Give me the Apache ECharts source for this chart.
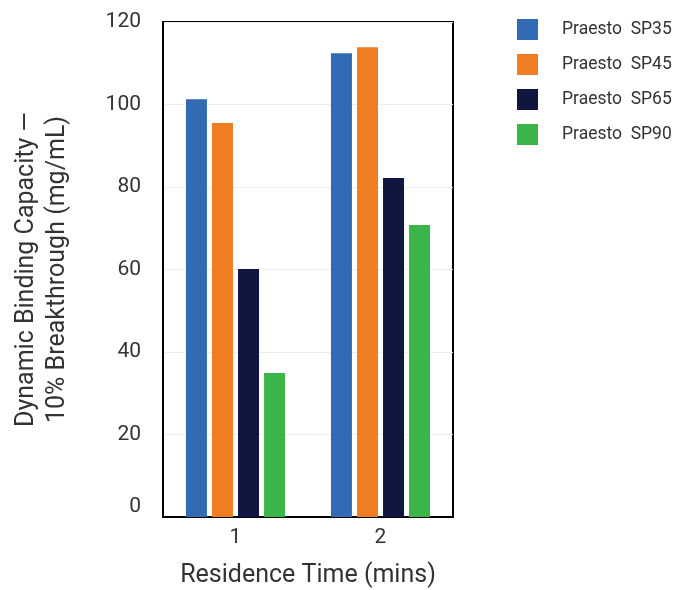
<!DOCTYPE html>
<html>
<head>
<meta charset="utf-8">
<script src="https://cdn.jsdelivr.net/npm/echarts@6/dist/echarts.min.js"></script>
<style>
html,body{margin:0;padding:0;background:#fff;}
#chart{width:678px;height:590px;}
</style>
</head>
<body>
<div id="chart"></div>
<script>
const categories = ['1', '2'];
const seriesNames = ['Praesto  SP35', 'Praesto  SP45', 'Praesto  SP65', 'Praesto  SP90'];
const sp35 = [101.3, 112.4];
const sp45 = [95.5, 113.9];
const sp65 = [60.1, 82.2];
const sp90 = [34.9, 70.8];
const yTicks = [0, 20, 40, 60, 80, 100, 120];

const values = [sp35, sp45, sp65, sp90];
const colors = ['#306BB4', '#F07D22', '#111640', '#3BB44A'];
const font = 'Roboto, "Noto Sans", sans-serif';
const textColor = '#333333';

const chart = echarts.init(document.getElementById('chart'));
chart.setOption({
  animation: false,
  backgroundColor: '#ffffff',
  textStyle: { fontFamily: font },
  grid: {
    left: 163, right: 225, top: 22, bottom: 73,
    outerBoundsMode: 'none',
    containLabel: false,
    show: true, borderColor: '#000000', borderWidth: 2, backgroundColor: 'transparent'
  },
  legend: {
    orient: 'vertical',
    left: 517, top: 19, padding: 0,
    itemWidth: 21, itemHeight: 21, itemGap: 14,
    icon: 'rect',
    textStyle: { fontFamily: font, fontSize: 17.5, color: textColor, padding: [0, 0, 0, 19] },
    data: seriesNames
  },
  xAxis: {
    type: 'category',
    data: categories,
    name: 'Residence Time (mins)',
    nameLocation: 'middle',
    nameGap: 46,
    nameTextStyle: { fontFamily: font, fontSize: 25, color: textColor },
    axisLine: { show: true, lineStyle: { color: '#000', width: 2 } },
    axisTick: { show: false },
    axisLabel: { fontFamily: font, fontSize: 21, color: textColor, margin: 10 }
  },
  yAxis: {
    type: 'value',
    min: yTicks[0], max: yTicks[yTicks.length - 1], interval: yTicks[1] - yTicks[0],
    name: 'Dynamic Binding Capacity —\n10% Breakthrough (mg/mL)',
    nameLocation: 'middle',
    nameRotate: 90,
    nameGap: 90,
    nameTextStyle: { fontFamily: font, fontSize: 25, color: textColor, lineHeight: 31 },
    axisLine: { show: true, lineStyle: { color: '#000', width: 2 } },
    axisTick: { show: false },
    axisLabel: {
      fontFamily: font, fontSize: 21, color: textColor, margin: 22,
      formatter: v => v === 0 ? '{z|0}' : String(v),
      rich: { z: { fontFamily: font, fontSize: 21, color: textColor, padding: [0, 0, 20, 0] } }
    },
    splitLine: { show: true, lineStyle: { color: '#eeeeee', width: 1 } }
  },
  series: seriesNames.map((n, i) => ({
    name: n,
    type: 'bar',
    data: values[i],
    barWidth: 21,
    barGap: '24%',
    itemStyle: { color: colors[i] }
  }))
});
</script>
</body>
</html>
